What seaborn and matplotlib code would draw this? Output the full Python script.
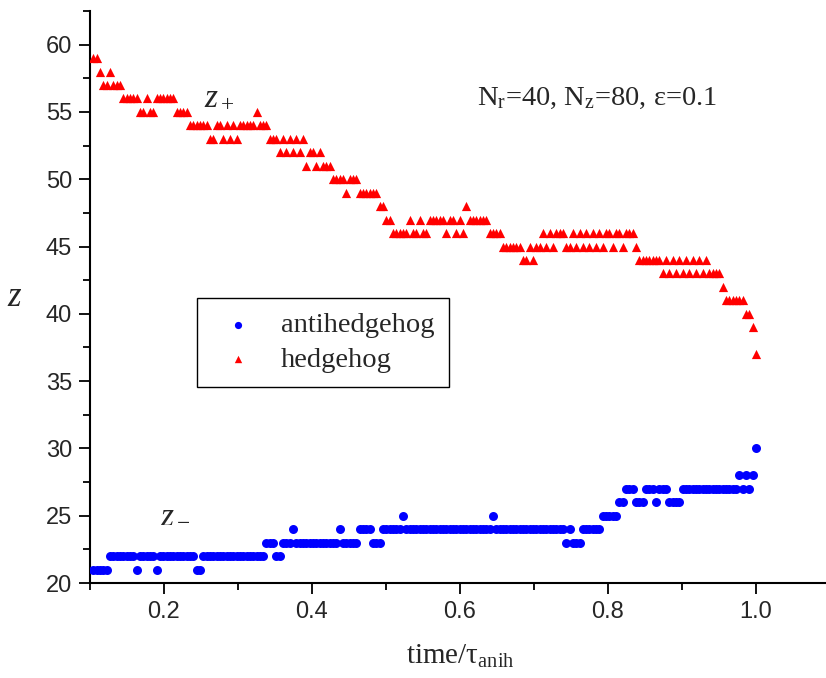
import matplotlib
matplotlib.use('Agg')
import matplotlib.pyplot as plt
import seaborn as sns
from matplotlib.ticker import MultipleLocator

# ---- data ----
time = [
    0.1045, 0.109, 0.1135, 0.118, 0.1225, 0.127, 0.1315, 0.136, 0.1405, 0.145,
    0.1495, 0.154, 0.1585, 0.163, 0.1675, 0.172, 0.1765, 0.181, 0.1855, 0.19,
    0.1945, 0.199, 0.2035, 0.208, 0.2125, 0.217, 0.2215, 0.226, 0.2305, 0.235,
    0.2395, 0.244, 0.2485, 0.253, 0.2575, 0.262, 0.2665, 0.271, 0.2755, 0.28,
    0.2845, 0.289, 0.2935, 0.298, 0.3025, 0.307, 0.3115, 0.316, 0.3205, 0.325,
    0.3295, 0.334, 0.3385, 0.343, 0.3475, 0.352, 0.3565, 0.361, 0.3655, 0.37,
    0.3745, 0.379, 0.3835, 0.388, 0.3925, 0.397, 0.4015, 0.406, 0.4105, 0.415,
    0.4195, 0.424, 0.4285, 0.433, 0.4375, 0.442, 0.4465, 0.451, 0.4555, 0.46,
    0.4645, 0.469, 0.4735, 0.478, 0.4825, 0.487, 0.4915, 0.496, 0.5005, 0.505,
    0.5095, 0.514, 0.5185, 0.523, 0.5275, 0.532, 0.5365, 0.541, 0.5455, 0.55,
    0.5545, 0.559, 0.5635, 0.568, 0.5725, 0.577, 0.5815, 0.586, 0.5905, 0.595,
    0.5995, 0.604, 0.6085, 0.613, 0.6175, 0.622, 0.6265, 0.631, 0.6355, 0.64,
    0.6445, 0.649, 0.6535, 0.658, 0.6625, 0.667, 0.6715, 0.676, 0.6805, 0.685,
    0.6895, 0.694, 0.6985, 0.703, 0.7075, 0.712, 0.7165, 0.721, 0.7255, 0.73,
    0.7345, 0.739, 0.7435, 0.748, 0.7525, 0.757, 0.7615, 0.766, 0.7705, 0.775,
    0.7795, 0.784, 0.7885, 0.793, 0.7975, 0.802, 0.8065, 0.811, 0.8155, 0.82,
    0.8245, 0.829, 0.8335, 0.838, 0.8425, 0.847, 0.8515, 0.856, 0.8605, 0.865,
    0.8695, 0.874, 0.8785, 0.883, 0.8875, 0.892, 0.8965, 0.901, 0.9055, 0.91,
    0.9145, 0.919, 0.9235, 0.928, 0.9325, 0.937, 0.9415, 0.946, 0.9505, 0.955,
    0.9595, 0.964, 0.9685, 0.973, 0.9775, 0.982, 0.9865, 0.991, 0.9955, 1.0,
]

hedgehog_z = [
    59, 59, 58, 57, 57, 58, 57, 57, 57, 56,
    56, 56, 56, 56, 55, 55, 56, 55, 55, 56,
    56, 56, 56, 56, 56, 55, 55, 55, 55, 54,
    54, 54, 54, 54, 54, 53, 53, 54, 54, 53,
    54, 53, 54, 53, 54, 54, 54, 54, 54, 55,
    54, 54, 54, 53, 53, 53, 52, 53, 52, 53,
    52, 53, 52, 53, 51, 52, 52, 51, 52, 51,
    51, 51, 50, 50, 50, 50, 49, 50, 50, 50,
    49, 49, 49, 49, 49, 49, 48, 48, 47, 47,
    46, 46, 46, 46, 46, 47, 46, 46, 47, 46,
    46, 47, 47, 47, 47, 47, 46, 47, 47, 46,
    47, 46, 48, 47, 47, 47, 47, 47, 47, 46,
    46, 46, 46, 45, 45, 45, 45, 45, 45, 44,
    44, 45, 44, 45, 45, 46, 45, 46, 45, 46,
    46, 46, 45, 45, 46, 45, 46, 45, 46, 45,
    46, 45, 46, 45, 46, 46, 45, 46, 46, 45,
    46, 46, 46, 45, 44, 44, 44, 44, 44, 44,
    44, 43, 44, 43, 44, 43, 44, 43, 44, 43,
    44, 43, 44, 43, 44, 43, 43, 43, 43, 42,
    41, 41, 41, 41, 41, 41, 40, 40, 39, 37,
]

antihedgehog_z = [
    21, 21, 21, 21, 21, 22, 22, 22, 22, 22,
    22, 22, 22, 21, 22, 22, 22, 22, 22, 21,
    22, 22, 22, 22, 22, 22, 22, 22, 22, 22,
    22, 21, 21, 22, 22, 22, 22, 22, 22, 22,
    22, 22, 22, 22, 22, 22, 22, 22, 22, 22,
    22, 22, 23, 23, 23, 22, 22, 23, 23, 23,
    24, 23, 23, 23, 23, 23, 23, 23, 23, 23,
    23, 23, 23, 23, 24, 23, 23, 23, 23, 23,
    24, 24, 24, 24, 23, 23, 23, 24, 24, 24,
    24, 24, 24, 25, 24, 24, 24, 24, 24, 24,
    24, 24, 24, 24, 24, 24, 24, 24, 24, 24,
    24, 24, 24, 24, 24, 24, 24, 24, 24, 24,
    25, 24, 24, 24, 24, 24, 24, 24, 24, 24,
    24, 24, 24, 24, 24, 24, 24, 24, 24, 24,
    24, 24, 23, 24, 23, 23, 23, 24, 24, 24,
    24, 24, 24, 25, 25, 25, 25, 25, 26, 26,
    27, 27, 27, 26, 26, 26, 27, 27, 27, 26,
    27, 27, 27, 26, 26, 26, 26, 27, 27, 27,
    27, 27, 27, 27, 27, 27, 27, 27, 27, 27,
    27, 27, 27, 27, 28, 27, 28, 27, 28, 30,
]

series_labels = ['antihedgehog', 'hedgehog']
x_label = 'time/τ$_\\mathregular{anih}$'
y_label = '$z$'
param_text = 'N$_\\mathregular{r}$=40, N$_\\mathregular{z}$=80, ε=0.1'

# ---- style ----
sns.set_style('ticks')
plt.rcParams['font.family'] = ['Liberation Serif', 'DejaVu Serif']
plt.rcParams['mathtext.fontset'] = 'custom'
plt.rcParams['mathtext.rm'] = 'Liberation Serif'
plt.rcParams['mathtext.it'] = 'Liberation Serif:italic'

W, H = 826, 678
fig = plt.figure(figsize=(W / 100, H / 100), dpi=100)
ax = fig.add_axes([90 / W, 95 / H, 736 / W, 572 / H])

sns.scatterplot(x=time, y=antihedgehog_z, color='#0000ff', marker='o', s=42,
                linewidth=0, label=series_labels[0], ax=ax, zorder=3)
sns.scatterplot(x=time, y=hedgehog_z, color='#ff0000', marker='^', s=44,
                linewidth=0, label=series_labels[1], ax=ax, zorder=3)

ax.set_xlim(0.1, 0.1 + 736 / 740)
ax.set_ylim(20, 62.5)
ax.xaxis.set_major_locator(MultipleLocator(0.2))
ax.xaxis.set_minor_locator(MultipleLocator(0.1))
ax.yaxis.set_major_locator(MultipleLocator(5))
ax.yaxis.set_minor_locator(MultipleLocator(2.5))

for side in ['top', 'right']:
    ax.spines[side].set_visible(False)
for side in ['left', 'bottom']:
    ax.spines[side].set_linewidth(1.5)
    ax.spines[side].set_color('black')

ax.tick_params(which='major', length=8, width=1.3, color='black',
               labelsize=17, labelfontfamily='Liberation Sans', pad=5)
ax.tick_params(which='minor', length=5, width=1.3, color='black')
ax.tick_params(axis='x', which='both', direction='out')
ax.tick_params(axis='y', which='both', direction='out')

ax.set_xlabel(x_label, fontsize=21, va='baseline')
ax.xaxis.set_label_coords((460 - 90) / 736, (583 - 664) / 572)
ax.set_ylabel(y_label, fontsize=25, rotation=0, ha='center', va='center')
ax.yaxis.set_label_coords((15 - 90) / 736, (583 - 298) / 572)

fig.text(477 / W, 1 - 105 / H, param_text, fontsize=20.5, va='baseline')
fig.text(204 / W, 1 - 105 / H, '$z_+$', fontsize=24, va='baseline')
fig.text(160 / W, 1 - 522 / H, '$z_-$', fontsize=24, va='baseline')

leg = ax.legend(loc='upper left', bbox_to_anchor=(197 / W, 1 - 298 / H),
                bbox_transform=fig.transFigure, frameon=True, fancybox=False,
                edgecolor='black', framealpha=1, fontsize=20.5, borderpad=0.5,
                handlelength=1.85, handletextpad=0.6, labelspacing=0.3,
                markerscale=0.8, borderaxespad=0)
leg.get_frame().set_linewidth(1.0)

fig.savefig('out.png', dpi=100)
